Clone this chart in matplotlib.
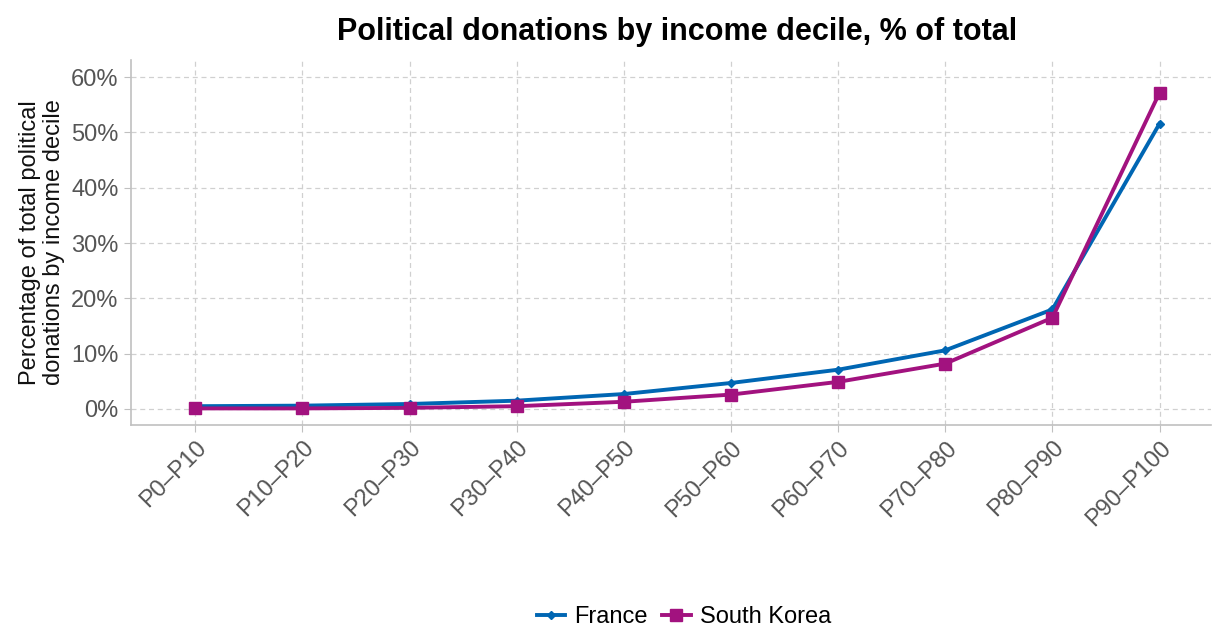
import numpy as np
import matplotlib.pyplot as plt
from matplotlib.ticker import FuncFormatter

plt.rcParams['font.family'] = ['Liberation Sans', 'DejaVu Sans']

deciles = ["P0–P10", "P10–P20", "P20–P30", "P30–P40", "P40–P50",
           "P50–P60", "P60–P70", "P70–P80", "P80–P90", "P90–P100"]
france = [0.5, 0.6, 0.9, 1.5, 2.7, 4.7, 7.1, 10.6, 18.0, 51.6]
korea = [0.1, 0.1, 0.2, 0.5, 1.3, 2.6, 4.9, 8.2, 16.5, 57.2]

fig = plt.figure(figsize=(12.13, 6.29), dpi=100)
ax = fig.add_axes([131 / 1213, 1 - 425 / 629, 1080 / 1213, 365 / 629])

x = np.arange(len(deciles))
ax.plot(x, france, color="#0066b3", lw=2.8, marker="D", ms=4.5, label="France", zorder=3)
ax.plot(x, korea, color="#a2127f", lw=2.8, marker="s", ms=8.5, label="South Korea", zorder=3)

ax.set_xlim(-0.6, 9.48)
ax.set_ylim(-2.9, 63.1)
ax.set_yticks(np.arange(0, 61, 10))
ax.yaxis.set_major_formatter(FuncFormatter(lambda v, p: f"{v:.0f}%"))
ax.set_xticks(x)
ax.set_xticklabels(deciles, rotation=45, ha="right", rotation_mode="anchor")

ax.grid(True, color="#d0d0d0", ls=(0, (4, 3)), lw=0.9)
ax.set_axisbelow(True)
for s in ["top", "right"]:
    ax.spines[s].set_visible(False)
for s in ["left", "bottom"]:
    ax.spines[s].set_color("#c0c0c0")
    ax.spines[s].set_linewidth(1.2)
ax.tick_params(axis="both", colors="#c0c0c0", labelcolor="#555555", labelsize=17, length=5)
ax.tick_params(axis="y", pad=4)

ax.set_ylabel("Percentage of total political\ndonations by income decile", fontsize=17, color="#111111",
              linespacing=1.15, labelpad=4)
fig.text(677 / 1213, 1 - 32 / 629, "Political donations by income decile, % of total",
         ha="center", va="center", fontsize=22, fontweight="bold")

fig.legend(loc="center", bbox_to_anchor=(684 / 1213, 1 - 617 / 629), ncol=2, frameon=False,
           fontsize=17, handlelength=1.2, columnspacing=0.6, handletextpad=0.4)

fig.savefig("out.png", dpi=100)
